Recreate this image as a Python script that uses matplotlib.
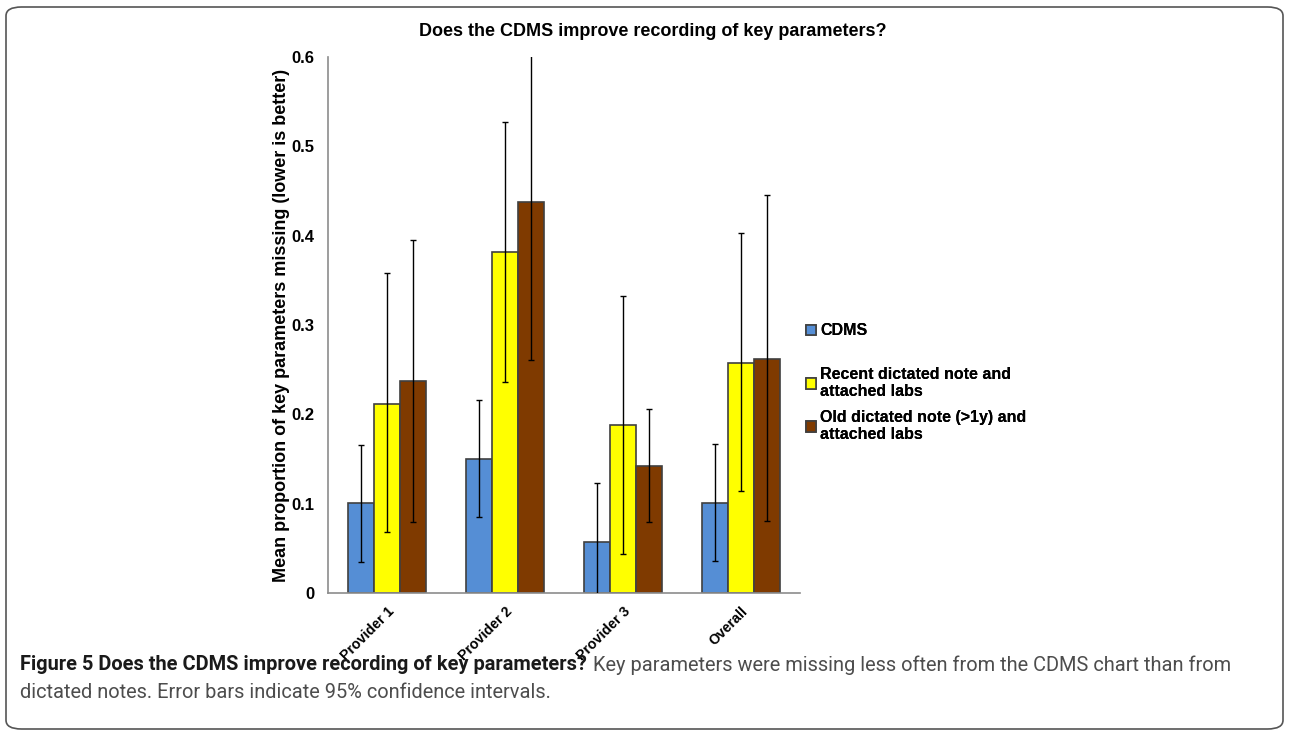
import matplotlib
matplotlib.use("Agg")
import matplotlib.pyplot as plt
import numpy as np
from matplotlib.patches import FancyBboxPatch

categories = ['Provider 1', 'Provider 2', 'Provider 3', 'Overall']
series_names = ['CDMS', 'Recent dictated note and\nattached labs', 'Old dictated note (>1y) and\nattached labs']
cdms = [0.101, 0.150, 0.057, 0.101]
cdms_lo = [0.035, 0.085, -0.009, 0.036]
cdms_hi = [0.166, 0.216, 0.123, 0.167]
recent = [0.212, 0.382, 0.188, 0.258]
recent_lo = [0.068, 0.236, 0.044, 0.114]
recent_hi = [0.358, 0.527, 0.333, 0.403]
old = [0.237, 0.438, 0.142, 0.262]
old_lo = [0.080, 0.261, 0.079, 0.081]
old_hi = [0.395, 0.615, 0.206, 0.445]
yticks = [0, 0.1, 0.2, 0.3, 0.4, 0.5, 0.6]
ytick_labels = ['0', '0.1', '0.2', '0.3', '0.4', '0.5', '0.6']

colors = ['#558ED5', '#FFFF00', '#7F3A00']
edge = '#404040'
FONT = ['Liberation Sans', 'DejaVu Sans']
CAPFONT = ['Roboto', 'DejaVu Sans']

plt.rcParams['font.family'] = FONT

fig = plt.figure(figsize=(12.89, 7.35), dpi=100)
ax = fig.add_axes([328/1289, 1-593/735, 472/1289, 536/735])

x = np.arange(len(categories))
w = 0.22
data = [(cdms, cdms_lo, cdms_hi), (recent, recent_lo, recent_hi), (old, old_lo, old_hi)]
for i, (vals, lo, hi) in enumerate(data):
    pos = x + (i - 1) * w
    vals = np.array(vals); lo = np.array(lo); hi = np.array(hi)
    ax.bar(pos, vals, width=w, color=colors[i], edgecolor=edge, linewidth=1.2,
           label=series_names[i], zorder=2)
    ax.errorbar(pos, vals, yerr=[vals - lo, hi - vals], fmt='none', ecolor='black',
                elinewidth=1.0, capsize=2.5, capthick=1.0, zorder=3)

ax.set_xlim(-0.5, len(categories) - 0.5)
ax.set_ylim(0, 0.6)
ax.set_yticks(yticks)
ax.set_yticklabels(ytick_labels, fontsize=12, fontweight='bold')
ax.set_xticks(x)
ax.set_xticklabels(categories, rotation=45, ha='right', rotation_mode='anchor',
                   fontsize=10.2, fontweight='bold')
ax.tick_params(axis='both', length=0)
ax.tick_params(axis='y', pad=10)
ax.tick_params(axis='x', pad=8)
for s in ['top', 'right']:
    ax.spines[s].set_visible(False)
for s in ['left', 'bottom']:
    ax.spines[s].set_color('#8c8c8c')
    ax.spines[s].set_linewidth(1.2)
ax.set_ylabel('Mean proportion of key parameters missing (lower is better)',
              fontsize=13.0, fontweight='bold', labelpad=1)

fig.text(653/1289, 1-32/735, 'Does the CDMS improve recording of key parameters?',
         ha='center', va='center', fontsize=13, fontweight='bold')

# legends (one per entry to match the spacing of the original)
handles, labels = ax.get_legend_handles_labels()
leg_y = [331, 383, 426]
for i, (h, l) in enumerate(zip(handles, labels)):
    lg = fig.legend([h], [l], loc='center left',
                    bbox_to_anchor=(806/1289, 1-leg_y[i]/735),
                    frameon=False, handlelength=0.65, handleheight=0.65,
                    handletextpad=0.25, borderpad=0, borderaxespad=0,
                    prop={'family': FONT, 'weight': 'bold', 'size': 11.5})
    fig.add_artist(lg)

# border
border = FancyBboxPatch((6/1289, 6/735), 1277/1289, 722/735,
                        boxstyle='round,pad=0,rounding_size=0.012',
                        transform=fig.transFigure, fill=False,
                        edgecolor='#555555', linewidth=1.2)
fig.add_artist(border)

# caption: fit the first line to the width of the original text block
cap_bold = 'Figure 5 Does the CDMS improve recording of key parameters?'
cap_rest = 'Key parameters were missing less often from the CDMS chart than from'
cap_line2 = 'dictated notes. Error bars indicate 95% confidence intervals.'
fig.canvas.draw()
r = fig.canvas.get_renderer()
base = 14
tb = fig.text(0, 0, cap_bold, fontsize=base, fontweight='bold', family=CAPFONT)
tr = fig.text(0, 0, cap_rest, fontsize=base, family=CAPFONT)
wtot = tb.get_window_extent(r).width + tr.get_window_extent(r).width + 6
tb.remove(); tr.remove()
size = base * 1217 / wtot

t1 = fig.text(20/1289, 1-665/735, cap_bold, ha='left', va='center', fontsize=size,
              fontweight='bold', family=CAPFONT, color='#1a1a1a')
bb = t1.get_window_extent(r)
fig.text((bb.x1 + 6*size/base)/1289, 1-665/735, cap_rest, ha='left', va='center',
         fontsize=size, family=CAPFONT, color='#4d4d4d')
fig.text(20/1289, 1-692/735, cap_line2, ha='left', va='center', fontsize=size,
         family=CAPFONT, color='#4d4d4d')

fig.savefig('out.png', dpi=100)
